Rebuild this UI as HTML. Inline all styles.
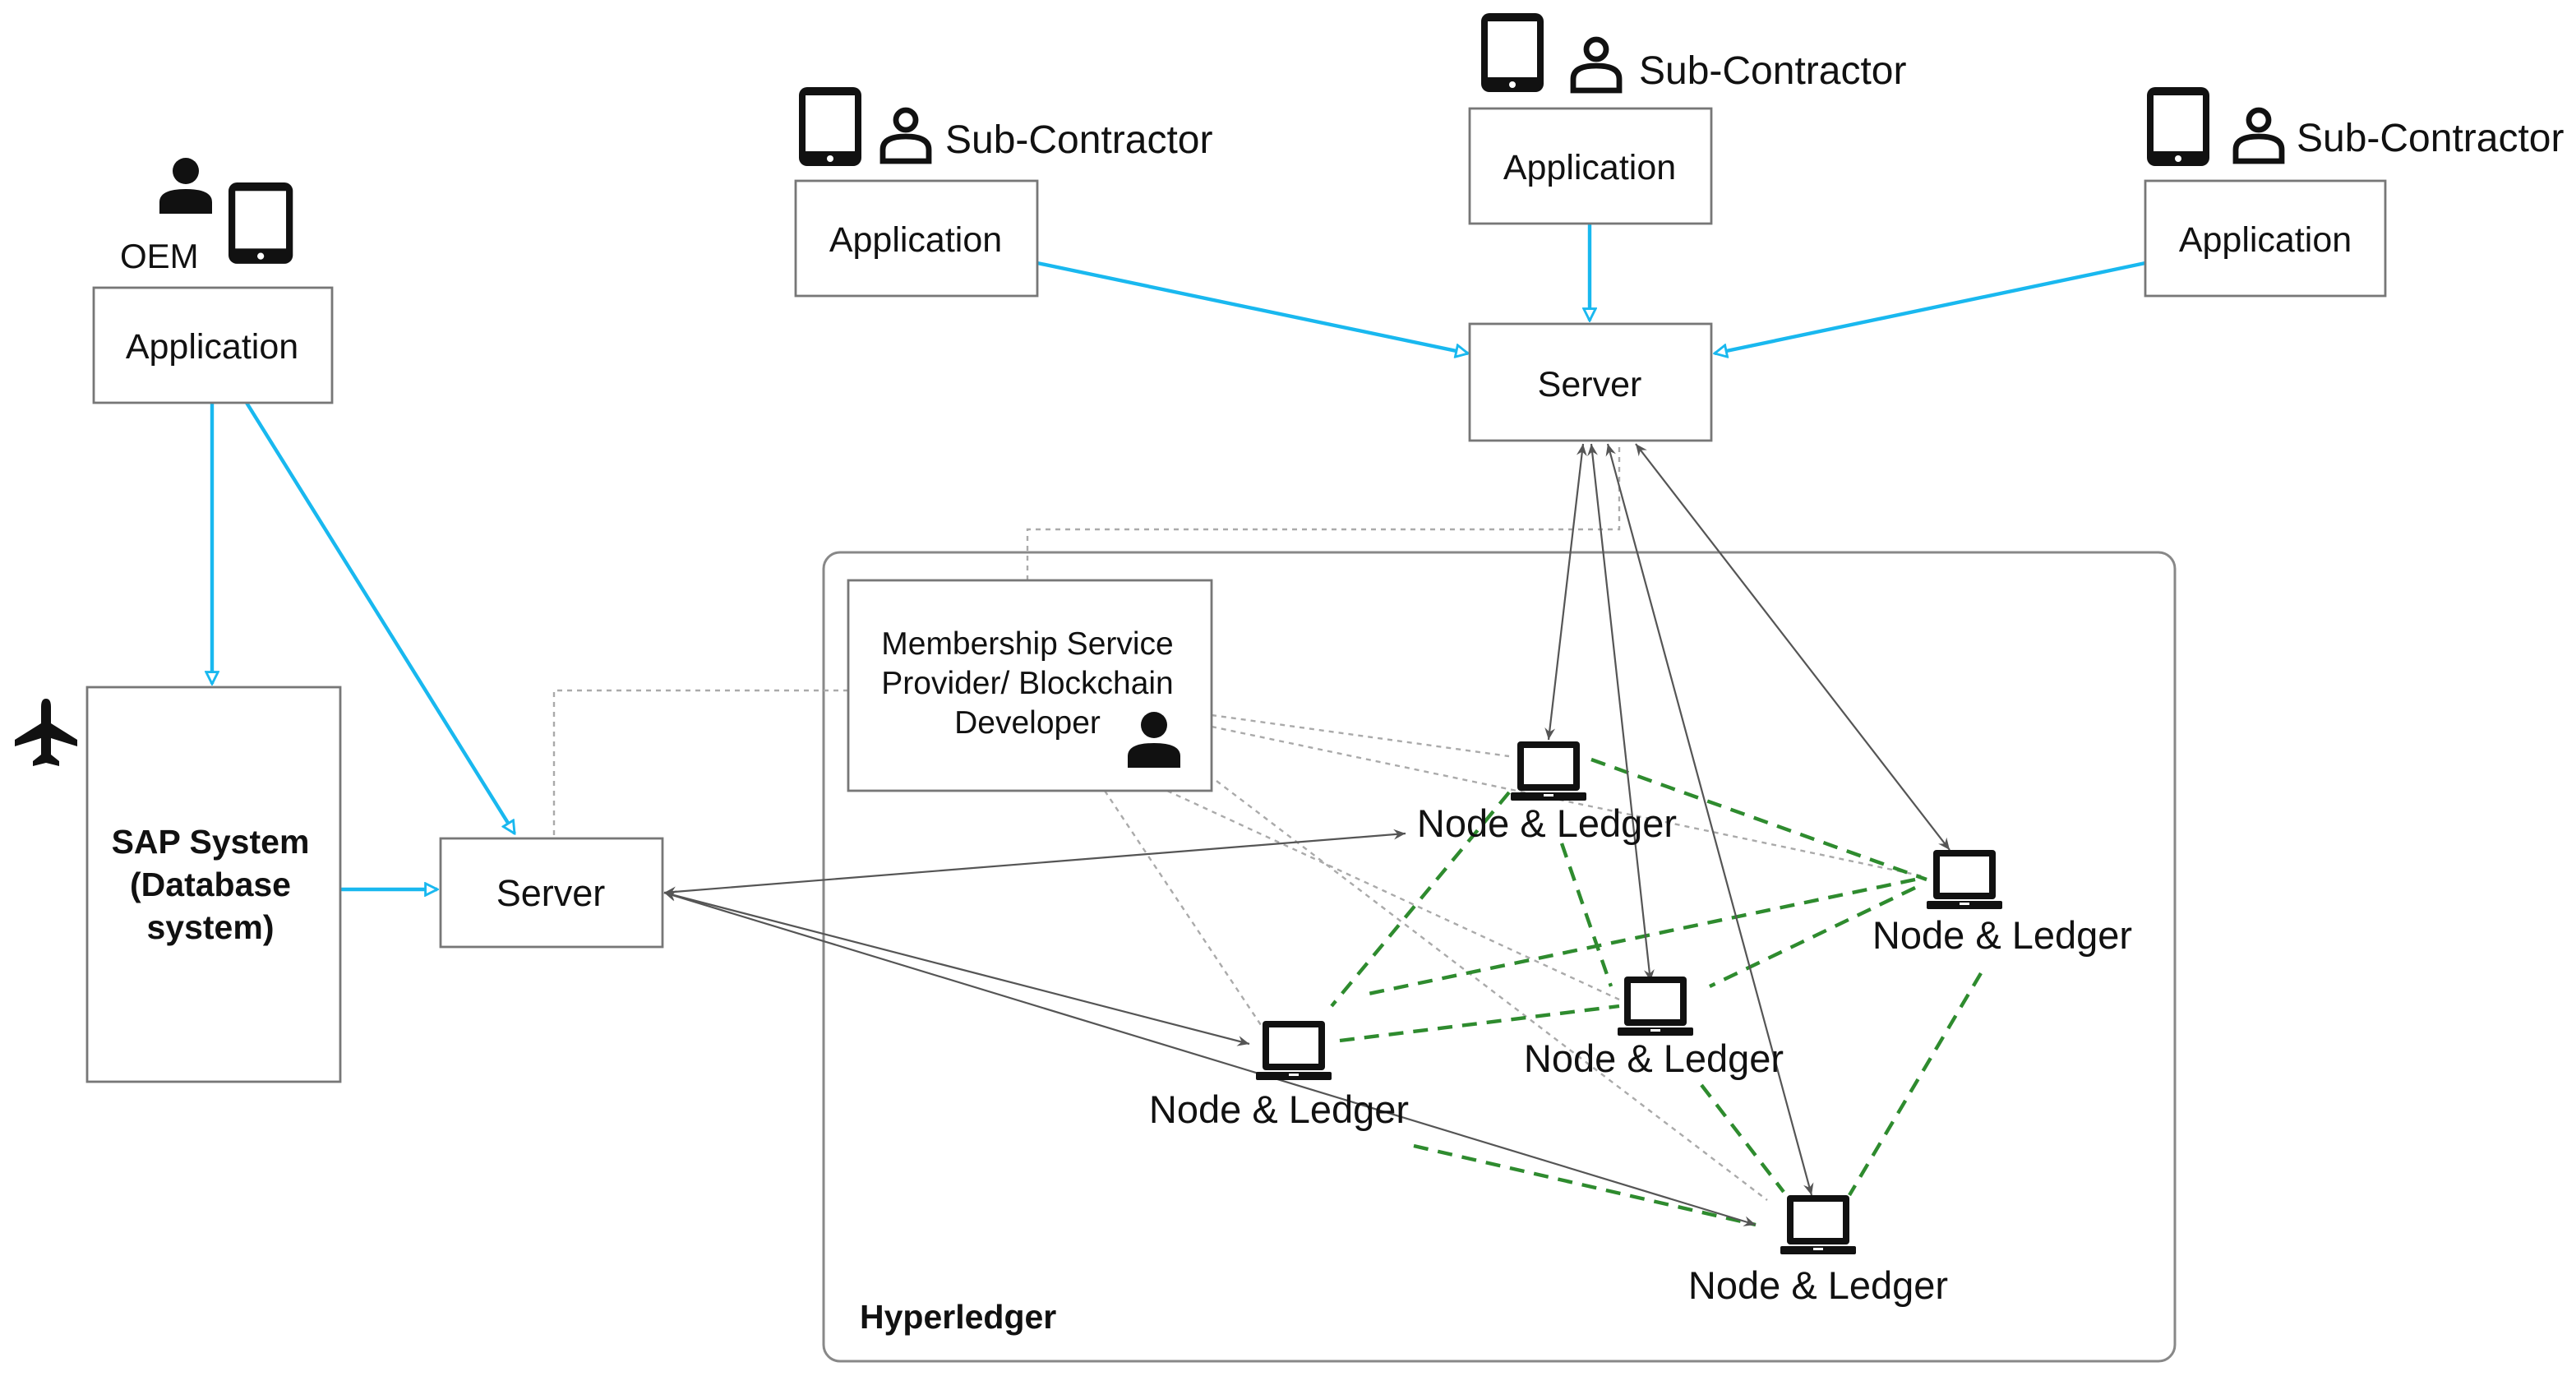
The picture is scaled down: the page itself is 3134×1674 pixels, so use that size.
<!DOCTYPE html>
<html><head><meta charset="utf-8"><style>
html,body{margin:0;padding:0;background:#fff}
svg{display:block}
text{font-family:"Liberation Sans",Arial,sans-serif;fill:#111}
</style></head><body>
<svg width="3134" height="1674" viewBox="0 0 1567 837" xmlns="http://www.w3.org/2000/svg">
<defs>
<marker id="ba" viewBox="0 0 10 10" refX="9" refY="5" markerWidth="9" markerHeight="9" markerUnits="userSpaceOnUse" orient="auto"><path d="M1,1 L9,5 L1,9 Z" fill="#fff" stroke="#19b8ef" stroke-width="1.6"/></marker>
<marker id="ga" viewBox="0 0 10 10" refX="9" refY="5" markerWidth="8" markerHeight="8" markerUnits="userSpaceOnUse" orient="auto-start-reverse"><path d="M0,1 L9,5 L0,9 L3,5 Z" fill="#555"/></marker>
<g id="tab"><rect x="0" y="0" width="38" height="48" rx="5" fill="#111"/><rect x="4" y="5" width="30" height="34" fill="#fff"/><circle cx="19" cy="43.5" r="2" fill="#fff"/></g>
<g id="pout"><circle cx="16" cy="8" r="6" fill="none" stroke="#111" stroke-width="3.4"/><path d="M2,33 L2,26 Q2,18 16,18 Q30,18 30,26 L30,33 Z" fill="none" stroke="#111" stroke-width="3.4"/></g>
<g id="pfill"><circle cx="16" cy="8" r="8" fill="#111"/><path d="M0,34 L0,27 Q0,19 16,19 Q32,19 32,27 L32,34 Z" fill="#111"/></g>
<g id="lap"><rect x="4" y="0" width="38" height="30" rx="2" fill="#111"/><rect x="8" y="4" width="30" height="22" fill="#fff"/><rect x="0" y="31" width="46" height="5" rx="1" fill="#111"/><rect x="20" y="32" width="6" height="1.5" fill="#fff"/></g>
</defs>

<rect x="501" y="336" width="822" height="492" rx="10" fill="none" stroke="#888" stroke-width="1.5"/>
<text x="523" y="808" font-size="20.5" font-weight="bold">Hyperledger</text>

<g fill="none" stroke="#aaa" stroke-width="1.2" stroke-dasharray="3,3">
<polyline points="625,353 625,322 985,322 985,270"/>
<polyline points="516,420 337,420 337,510"/>
<line x1="737" y1="435" x2="918" y2="460"/>
<line x1="737" y1="442" x2="1170" y2="533"/>
<line x1="672" y1="481" x2="770" y2="628"/>
<line x1="710" y1="481" x2="985" y2="608"/>
<line x1="740" y1="475" x2="1075" y2="730"/>
</g>

<g fill="none" stroke="#2e8b2e" stroke-width="2.2" stroke-dasharray="9,6">
<line x1="968" y1="462" x2="1172" y2="535"/>
<line x1="918" y1="482" x2="810" y2="612"/>
<line x1="950" y1="513" x2="980" y2="600"/>
<line x1="1165" y1="535" x2="830" y2="605"/>
<line x1="1165" y1="540" x2="1040" y2="600"/>
<line x1="1205" y1="592" x2="1125" y2="727"/>
<line x1="815" y1="633" x2="985" y2="612"/>
<line x1="1035" y1="660" x2="1085" y2="725"/>
<line x1="860" y1="697" x2="1068" y2="745"/>
</g>

<g fill="none" stroke="#555" stroke-width="1.1" marker-end="url(#ga)" marker-start="url(#ga)">
<line x1="963" y1="270" x2="942" y2="450"/>
<line x1="968" y1="270" x2="1004" y2="597"/>
<line x1="978" y1="270" x2="1102" y2="727"/>
<line x1="995" y1="270" x2="1186" y2="517"/>
<line x1="404" y1="543" x2="855" y2="507"/>
<line x1="404" y1="543" x2="760" y2="635"/>
<line x1="404" y1="543" x2="1068" y2="745"/>
</g>

<g fill="none" stroke="#19b8ef" stroke-width="2.2" marker-end="url(#ba)">
<line x1="129" y1="245" x2="129" y2="416"/>
<line x1="150" y1="245" x2="313" y2="507"/>
<line x1="207" y1="541" x2="266" y2="541"/>
<line x1="631" y1="160" x2="893" y2="215"/>
<line x1="967" y1="136" x2="967" y2="195"/>
<line x1="1305" y1="160" x2="1043" y2="215"/>
</g>

<g fill="#fff" stroke="#777" stroke-width="1.4">
<rect x="57" y="175" width="145" height="70"/>
<rect x="53" y="418" width="154" height="240"/>
<rect x="268" y="510" width="135" height="66"/>
<rect x="484" y="110" width="147" height="70"/>
<rect x="894" y="66" width="147" height="70"/>
<rect x="1305" y="110" width="146" height="70"/>
<rect x="894" y="197" width="147" height="71"/>
<rect x="516" y="353" width="221" height="128"/>
</g>
<g font-size="21.5" text-anchor="middle">
<text x="129" y="218">Application</text>
<text x="557" y="153">Application</text>
<text x="967" y="109">Application</text>
<text x="1378" y="153">Application</text>
<text x="967" y="241">Server</text>
<text x="335" y="551" font-size="22.5">Server</text>
</g>
<g font-size="20.5" font-weight="bold" text-anchor="middle">
<text x="128" y="519">SAP System</text>
<text x="128" y="545">(Database</text>
<text x="128" y="571">system)</text>
</g>
<g font-size="19.5" text-anchor="middle">
<text x="625" y="398">Membership Service</text>
<text x="625" y="422">Provider/ Blockchain</text>
<text x="625" y="446">Developer</text>
</g>
<use href="#pfill" transform="translate(686,433)"/>

<use href="#pfill" transform="translate(97,96)"/>
<use href="#tab" transform="translate(139,111) scale(1.03)"/>
<text x="73" y="163" font-size="21">OEM</text>

<path d="M28,425 Q31,425 31,430 L31,440 L47,450 L47,454 L31,449 L31,459 L36,463 L36,466 L28,464 L20,466 L20,463 L25,459 L25,449 L9,454 L9,450 L25,440 L25,430 Q25,425 28,425 Z" fill="#111"/>

<use href="#tab" transform="translate(486,53)"/>
<use href="#pout" transform="translate(535,65)"/>
<text x="575" y="93" font-size="24">Sub-Contractor</text>
<use href="#tab" transform="translate(901,8)"/>
<use href="#pout" transform="translate(955,22)"/>
<text x="997" y="51" font-size="24">Sub-Contractor</text>
<use href="#tab" transform="translate(1306,53)"/>
<use href="#pout" transform="translate(1358,65)"/>
<text x="1397" y="92" font-size="24">Sub-Contractor</text>

<use href="#lap" transform="translate(919,451)"/>
<use href="#lap" transform="translate(1172,517)"/>
<use href="#lap" transform="translate(984,594)"/>
<use href="#lap" transform="translate(764,621)"/>
<use href="#lap" transform="translate(1083,727)"/>
<g font-size="23.5" text-anchor="middle">
<text x="941" y="509">Node &amp; Ledger</text>
<text x="1218" y="577">Node &amp; Ledger</text>
<text x="1006" y="652">Node &amp; Ledger</text>
<text x="778" y="683">Node &amp; Ledger</text>
<text x="1106" y="790">Node &amp; Ledger</text>
</g>
</svg>
</body></html>
